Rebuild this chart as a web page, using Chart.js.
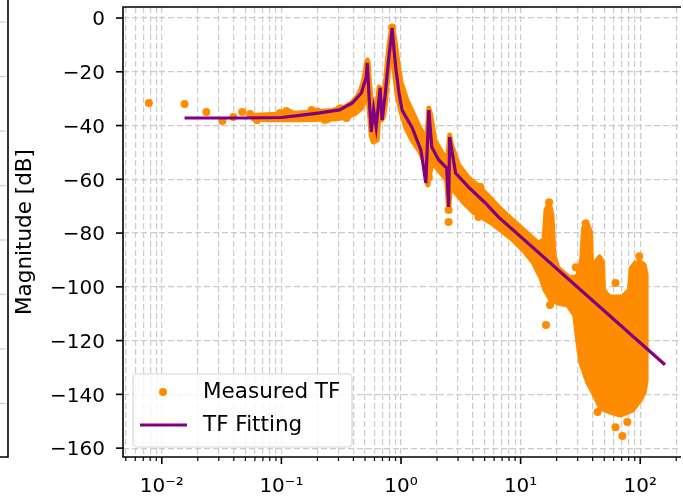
<!DOCTYPE html>
<html>
<head>
<meta charset="utf-8">
<script src="https://cdn.jsdelivr.net/npm/chart.js@4.4.1/dist/chart.umd.min.js"></script>
<style>
html, body { margin: 0; padding: 0; background: #fff; overflow: hidden; }
</style>
</head>
<body>
<canvas id="myChart" width="683" height="503"></canvas>
<script>
// measured TF, single dots
let meas_freq = [0.0078, 0.0155, 0.0236, 0.0321, 0.0396, 0.047, 0.0548, 0.0626, 0.0758, 0.0972, 0.11, 0.118, 0.143, 0.179, 0.2, 0.23, 0.243, 0.289, 0.31, 0.35,
  0.597, 0.842, 1.41, 1.71, 2.50, 2.50, 4.44, 4.61, 16.3, 17.3, 17.6, 28.9, 35.0, 38.5, 44.0, 62.1, 62.1, 70.9, 78.0, 98.1]
let meas_db = [-31.6, -32.0, -35.0, -38.3, -36.8, -35.0, -35.7, -38.0, -36.8, -35.3, -34.6, -35.3, -36.1, -34.2, -34.8, -37.9, -37.6, -35.3, -33.6, -37.2,
  -44.7, -3.5, -46.5, -59.2, -71.4, -75.9, -74.0, -62.9, -114.2, -68.5, -106.8, -92.7, -76.3, -135.8, -146.6, -98.6, -152.2, -155.5, -150.3, -88.6]

// measured TF where the dots merge into one mass: upper edge left->right, then lower edge right->left
let band_freq = [0.058, 0.0972, 0.179, 0.267, 0.336, 0.385, 0.431, 0.466, 0.493, 0.512, 0.522, 0.532, 0.542, 0.564, 0.608, 0.644, 0.657, 0.669, 0.695,
  0.737, 0.765, 0.795, 0.826, 0.842, 0.875, 0.909, 0.962, 1.0, 1.12, 1.282, 1.466, 1.644, 1.707, 1.774, 1.915, 2.188, 2.455, 2.55, 2.65,
  3.03, 3.67, 4.44, 5.37, 6.51, 9.53, 14.0, 15.7, 16.3, 17.3, 18.3, 19.0, 20.5, 25.7, 30.0, 32.4, 33.6, 36.3, 38.5, 39.2, 42.4, 45.7, 48.4,
  49.3, 55.3, 70.9, 81.1, 84.2, 90.9, 100, 108, 112,
  112, 108, 100, 85.9, 68.2, 56.4, 46.6, 41.5, 36.3, 31.8, 30.0, 28.3, 24.8, 20.5, 17.9, 16.0, 14.8, 12.7, 10.5, 8.67, 7.16, 5.91, 4.88,
  4.04, 3.33, 2.75, 2.60, 2.50, 2.41, 2.07, 1.81, 1.675, 1.58, 1.41, 1.234, 1.10, 1.0, 0.927, 0.875, 0.842, 0.795, 0.765, 0.737, 0.709,
  0.683, 0.657, 0.632, 0.586, 0.564, 0.542, 0.522, 0.502, 0.466, 0.415, 0.356, 0.278, 0.143, 0.080, 0.058, 0.058]
let band_db = [-36.2, -35.8, -35.0, -34.4, -33.2, -31.6, -29.2, -26.2, -22.0, -17.1, -15.6, -16.4, -23.1, -30.5, -34.2, -28.7, -25.7, -26.0, -30.5,
  -25.0, -17.0, -10.0, -5.0, -3.3, -6.3, -11.2, -19.3, -23.8, -30.5, -36.1, -41.7, -45.4, -33.5, -36.1, -45.4, -49.9, -52.8, -43.5, -47.3,
  -54.7, -59.5, -62.5, -66.2, -70.3, -77.0, -83.7, -82.6, -71.4, -68.8, -73.3, -88.2, -93.0, -96.7, -96.0, -90.0, -78.1, -77.0, -79.6, -93.8, -90.8, -88.9, -90.8,
  -101.2, -103.8, -103.8, -101.2, -93.0, -91.2, -90.8, -91.9, -95.6,
  -134.7, -139.2, -142.1, -145.9, -147.7, -146.6, -145.1, -140.3, -135.4, -128.0, -119.8, -110.5, -106.8, -106.0, -104.9, -101.2, -96.7, -90.8, -86.3, -82.6, -79.6, -76.7, -74.4,
  -72.2, -68.5, -64.0, -62.1, -71.4, -60.3, -56.6, -53.6, -62.1, -53.6, -49.1, -45.4, -40.9, -35.0, -28.7, -19.3, -12.0, -17.5, -25.0, -33.0, -37.0,
  -38.0, -35.0, -45.4, -46.1, -43.9, -34.2, -26.8, -30.5, -33.5, -35.5, -36.8, -37.6, -37.8, -37.8, -37.6, -36.2]

// TF fitting curve
let fit_freq = [0.0155, 0.05, 0.1, 0.143, 0.209, 0.306, 0.392, 0.466, 0.512, 0.522, 0.542, 0.564, 0.59, 0.62, 0.669, 0.695, 0.737, 0.765, 0.795, 0.826, 0.842,
  0.875, 0.909, 0.962, 1.02, 1.10, 1.234, 1.466, 1.613, 1.707, 1.808, 2.066, 2.409, 2.502, 2.55, 2.86, 3.67, 5.07, 6.51, 161]
let fit_db = [-37.2, -37.2, -37.0, -36.2, -35.3, -34.2, -31.6, -27.9, -22.0, -16.7, -30.0, -42.4, -34.0, -40.6, -26.0, -38.0, -28.7, -21.2, -13.8, -7.4, -3.7,
  -12.0, -19.5, -27.9, -34.2, -36.8, -40.6, -49.1, -61.4, -34.2, -48.0, -52.8, -55.8, -70.3, -44.3, -57.7, -62.9, -68.8, -74.0, -129.0]

let x_range = [0.00474, 210.9]
let y_range = [-163.3, 4.1]
let y_ticks = [-160, -140, -120, -100, -80, -60, -40, -20, 0]
let x_decades = [-2, -1, 0, 1, 2]
let x_labels = ['10\u207b\u00b2', '10\u207b\u00b9', '10\u2070', '10\u00b9', '10\u00b2']

const FONT = "'DejaVu Sans', sans-serif"
const pts = (xs, ys) => xs.map((x, i) => ({ x: x, y: ys[i] }))
const isDecade = (v) => Math.abs(Math.log10(v) - Math.round(Math.log10(v))) < 1e-6
const noPad = (scale) => {
  scale.paddingTop = 0; scale.paddingBottom = 0
  scale.paddingLeft = 0; scale.paddingRight = 0
}

const frame = {
  id: 'frame',
  afterDraw(chart) {
    const { ctx, chartArea: a, scales: { x, y } } = chart
    ctx.save()
    // edge of the neighbouring subplot at the far left
    ctx.strokeStyle = '#cccccc'
    ctx.lineWidth = 1.2
    ctx.setLineDash([6, 3])
    for (let i = 0; i < 8; i++) {
      const yy = 22 + i * 54.5
      ctx.beginPath(); ctx.moveTo(0, yy); ctx.lineTo(8, yy); ctx.stroke()
    }
    ctx.setLineDash([])
    ctx.strokeStyle = '#000'
    ctx.lineWidth = 1.6
    ctx.beginPath(); ctx.moveTo(8, 0); ctx.lineTo(8, a.bottom); ctx.lineTo(0, a.bottom); ctx.stroke()

    // spines
    ctx.beginPath()
    ctx.moveTo(a.right + 2, a.top); ctx.lineTo(a.left, a.top); ctx.lineTo(a.left, a.bottom); ctx.lineTo(a.right + 2, a.bottom)
    ctx.stroke()

    // tick marks
    y.ticks.forEach(t => {
      const py = y.getPixelForValue(t.value)
      ctx.beginPath(); ctx.moveTo(a.left - 7, py); ctx.lineTo(a.left, py); ctx.stroke()
    })
    x.ticks.forEach(t => {
      const px = x.getPixelForValue(t.value)
      const major = isDecade(t.value)
      ctx.lineWidth = major ? 1.6 : 1.2
      ctx.beginPath(); ctx.moveTo(px, a.bottom); ctx.lineTo(px, a.bottom + (major ? 7 : 4)); ctx.stroke()
    })

    // legend box
    const bx = a.left + 10, by = a.bottom - 83, bw = 219, bh = 73, r = 4
    ctx.beginPath()
    ctx.moveTo(bx + r, by)
    ctx.arcTo(bx + bw, by, bx + bw, by + bh, r)
    ctx.arcTo(bx + bw, by + bh, bx, by + bh, r)
    ctx.arcTo(bx, by + bh, bx, by, r)
    ctx.arcTo(bx, by, bx + bw, by, r)
    ctx.closePath()
    ctx.fillStyle = 'rgba(255,255,255,0.8)'
    ctx.fill()
    ctx.strokeStyle = '#d6d6d6'
    ctx.lineWidth = 1.2
    ctx.stroke()

    const ds = chart.data.datasets
    ctx.fillStyle = ds[1].backgroundColor
    ctx.beginPath(); ctx.arc(bx + 30, by + 18, 4, 0, Math.PI * 2); ctx.fill()
    ctx.strokeStyle = ds[0].borderColor
    ctx.lineWidth = 3
    ctx.beginPath(); ctx.moveTo(bx + 7, by + 51); ctx.lineTo(bx + 54, by + 51); ctx.stroke()

    ctx.fillStyle = '#000'
    ctx.font = '21.5px ' + FONT
    ctx.textBaseline = 'middle'
    ctx.textAlign = 'left'
    ctx.fillText(ds[1].label, bx + 70, by + 18)
    ctx.fillText(ds[0].label, bx + 70, by + 51)
    ctx.restore()
  }
}

const data = {
  datasets: [
    {
      type: 'line',
      label: 'TF Fitting',
      data: pts(fit_freq, fit_db),
      borderColor: '#800080',
      borderWidth: 3.2,
      pointRadius: 0,
      fill: false,
      order: 0
    },
    {
      label: 'Measured TF',
      data: pts(meas_freq, meas_db),
      backgroundColor: '#ff8c00',
      borderWidth: 0,
      pointRadius: 4,
      order: 1
    },
    {
      type: 'line',
      label: 'Measured TF (dense)',
      data: pts(band_freq, band_db),
      backgroundColor: '#ff8c00',
      borderColor: '#ff8c00',
      borderWidth: 5,
      borderJoinStyle: 'round',
      borderCapStyle: 'round',
      pointRadius: 0,
      fill: 'shape',
      order: 2
    }
  ]
}

const gridOpts = { color: '#cbcbcb', lineWidth: 1.2, drawTicks: false }

const config = {
  type: 'scatter',
  data: data,
  options: {
    responsive: false,
    animation: false,
    events: [],
    layout: { padding: { top: 7, left: 0, right: 0, bottom: 0 } },
    plugins: { legend: { display: false }, tooltip: { enabled: false } },
    scales: {
      x: {
        type: 'logarithmic',
        min: x_range[0],
        max: x_range[1],
        afterBuildTicks: (scale) => {
          let list = []
          for (let n = -3; n <= 2; n++) {
            for (let k = 1; k <= 9; k++) {
              const v = k * Math.pow(10, n)
              if (v >= x_range[0] && v <= x_range[1]) list.push({ value: v })
            }
          }
          scale.ticks = list
        },
        afterFit: (scale) => { scale.height = 46; noPad(scale) },
        grid: gridOpts,
        border: { display: false, dash: [6, 3] },
        ticks: {
          autoSkip: false,
          maxRotation: 0,
          padding: 18,
          color: '#000',
          font: { family: FONT, size: 20 },
          callback: (v) => isDecade(v) ? x_labels[x_decades.indexOf(Math.round(Math.log10(v)))] : ''
        }
      },
      y: {
        type: 'linear',
        min: y_range[0],
        max: y_range[1],
        afterBuildTicks: (scale) => { scale.ticks = y_ticks.map(v => ({ value: v })) },
        afterFit: (scale) => { scale.width = 123; noPad(scale) },
        grid: gridOpts,
        border: { display: false, dash: [6, 3] },
        title: {
          display: true,
          text: 'Magnitude [dB]',
          color: '#000',
          font: { family: FONT, size: 21.5 },
          padding: { top: 13, bottom: 0 }
        },
        ticks: {
          padding: 18,
          labelOffset: 2,
          color: '#000',
          font: { family: FONT, size: 20 },
          callback: (v) => String(v).replace('-', '\u2212')
        }
      }
    }
  },
  plugins: [frame]
}

const myChart = new Chart(document.getElementById('myChart'), config)
</script>
</body>
</html>
